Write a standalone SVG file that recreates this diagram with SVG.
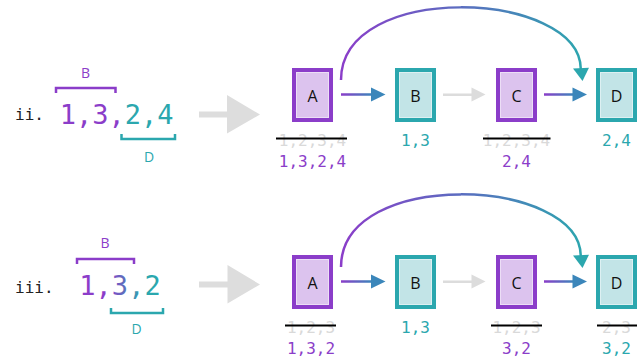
<svg xmlns="http://www.w3.org/2000/svg" width="643" height="362" viewBox="0 0 643 362">
  <defs>
    <style>
      .mono { font-family: "DejaVu Sans Mono", "Liberation Mono", monospace; }
      .sans { font-family: "Open Sans", "Liberation Sans", sans-serif; }
      .num { font-size: 16px; text-anchor: middle; }
      .big { font-size: 27px; text-anchor: middle; }
      .roman { font-size: 16px; fill: #222; }
      .tag { font-size: 14px; text-anchor: middle; }
      .nodeP rect.outer { fill: #dcc3ee; stroke: #8b3dc9; stroke-width: 4; }
      .nodeT rect.outer { fill: #c2e4e7; stroke: #2ba7ae; stroke-width: 4; }
      rect.inner { fill: none; stroke: #ffffff; stroke-opacity: 0.45; stroke-width: 1; }
      .nodeLabel { font-size: 16px; text-anchor: middle; fill: #111; }
      .purple { fill: #8b3dc9; }
      .teal { fill: #2ba7ae; }
      .gray { fill: #d9d9d9; }
      .strike { stroke: #000; stroke-width: 2; }
      .bracketP { fill: none; stroke: #8b3dc9; stroke-width: 2.5; }
      .bracketT { fill: none; stroke: #2ba7ae; stroke-width: 2.5; }
      .bigArrow { fill: #dddddd; }
      .arc { fill: none; stroke: url(#arcGrad); stroke-width: 2.5; }
    </style>
    <linearGradient id="shaftGrad" x1="0" y1="0" x2="1" y2="0">
      <stop offset="0" stop-color="#8b3dc9"/>
      <stop offset="1" stop-color="#3b86ba"/>
    </linearGradient>
    <linearGradient id="arcGrad" gradientUnits="userSpaceOnUse" x1="341" y1="0" x2="585" y2="0">
      <stop offset="0" stop-color="#8b3dc9"/>
      <stop offset="0.5" stop-color="#5a6ec0"/>
      <stop offset="1" stop-color="#2ba7ae"/>
    </linearGradient>
    <linearGradient id="mixGrad" gradientUnits="userSpaceOnUse" x1="108" y1="0" x2="142" y2="0">
      <stop offset="0" stop-color="#8b3dc9"/>
      <stop offset="1" stop-color="#2ba7ae"/>
    </linearGradient>
  </defs>

  <!-- row ii -->
  <g id="row-ii-sequence">
    <text class="mono roman" x="15" y="120">ii.</text>
    <path class="bracketP" d="M56,93 V88 H115.5 V93"/>
    <text class="sans tag purple" x="85.5" y="77.5">B</text>
    <text class="mono big" x="116.7" y="124"><tspan class="purple">1,3,</tspan><tspan class="teal">2,4</tspan></text>
    <path class="bracketT" d="M121.5,134 V139 H175 V134"/>
    <text class="sans tag teal" x="149" y="162">D</text>
    <polygon class="bigArrow" points="199,111.5 227,111.5 227,95 260,114.5 227,133.5 227,117.5 199,117.5"/>
  </g>

  <!-- row iii -->
  <g id="row-iii-sequence">
    <text class="mono roman" x="15" y="292.5">iii.</text>
    <path class="bracketP" d="M77,264 V259 H134 V264"/>
    <text class="sans tag purple" x="105" y="247.5">B</text>
    <text class="mono big" x="120" y="295" fill="url(#mixGrad)">1,3,2</text>
    <path class="bracketT" d="M111,308 V313 H163 V308"/>
    <text class="sans tag teal" x="136.7" y="333.5">D</text>
    <polygon class="bigArrow" points="199,281.5 227.5,281.5 227.5,265 260,284.5 227.5,303.5 227.5,287.5 199,287.5"/>
  </g>

  <!-- graph ii -->
  <g id="ii-A" class="nodeP">
    <rect class="outer" x="294" y="70" width="37" height="50"/>
    <rect class="inner" x="296.5" y="72.5" width="32" height="45"/>
    <text class="sans nodeLabel" x="312.5" y="101.5">A</text>
    <text class="mono num gray" x="312.5" y="145.5">1,2,3,4</text>
    <line class="strike" x1="276" y1="138.5" x2="347" y2="138.5"/>
    <text class="mono num purple" x="312.5" y="166.5">1,3,2,4</text>
  </g>
  <g id="ii-B" class="nodeT">
    <rect class="outer" x="397" y="70" width="37" height="50"/>
    <rect class="inner" x="399.5" y="72.5" width="32" height="45"/>
    <text class="sans nodeLabel" x="415.5" y="101.5">B</text>
    <text class="mono num teal" x="415.5" y="146">1,3</text>
  </g>
  <g id="ii-C" class="nodeP">
    <rect class="outer" x="498" y="70" width="37" height="50"/>
    <rect class="inner" x="500.5" y="72.5" width="32" height="45"/>
    <text class="sans nodeLabel" x="516.5" y="101.5">C</text>
    <text class="mono num gray" x="516.5" y="145.5">1,2,3,4</text>
    <line class="strike" x1="483" y1="138.5" x2="550.5" y2="138.5"/>
    <text class="mono num purple" x="516.5" y="166.5">2,4</text>
  </g>
  <g id="ii-D" class="nodeT">
    <rect class="outer" x="598" y="70" width="37" height="50"/>
    <rect class="inner" x="600.5" y="72.5" width="32" height="45"/>
    <text class="sans nodeLabel" x="616.5" y="101.5">D</text>
    <text class="mono num teal" x="616.5" y="146">2,4</text>
  </g>

  <!-- graph iii -->
  <g id="iii-A" class="nodeP">
    <rect class="outer" x="294" y="257" width="37" height="50"/>
    <rect class="inner" x="296.5" y="259.5" width="32" height="45"/>
    <text class="sans nodeLabel" x="312.5" y="288.5">A</text>
    <text class="mono num gray" x="311" y="332.5">1,2,3</text>
    <line class="strike" x1="285" y1="325.5" x2="336" y2="325.5"/>
    <text class="mono num purple" x="311" y="353.5">1,3,2</text>
  </g>
  <g id="iii-B" class="nodeT">
    <rect class="outer" x="397" y="257" width="37" height="50"/>
    <rect class="inner" x="399.5" y="259.5" width="32" height="45"/>
    <text class="sans nodeLabel" x="415.5" y="288.5">B</text>
    <text class="mono num teal" x="415.5" y="333">1,3</text>
  </g>
  <g id="iii-C" class="nodeP">
    <rect class="outer" x="498" y="257" width="37" height="50"/>
    <rect class="inner" x="500.5" y="259.5" width="32" height="45"/>
    <text class="sans nodeLabel" x="516.5" y="288.5">C</text>
    <text class="mono num gray" x="516.5" y="332.5">1,2,3</text>
    <line class="strike" x1="491" y1="325.5" x2="542" y2="325.5"/>
    <text class="mono num purple" x="516.5" y="353.5">3,2</text>
  </g>
  <g id="iii-D" class="nodeT">
    <rect class="outer" x="598" y="257" width="37" height="50"/>
    <rect class="inner" x="600.5" y="259.5" width="32" height="45"/>
    <text class="sans nodeLabel" x="616.5" y="288.5">D</text>
    <text class="mono num gray" x="616.5" y="332.5">2,3</text>
    <line class="strike" x1="597" y1="325.5" x2="637" y2="325.5"/>
    <text class="mono num teal" x="616.5" y="353.5">3,2</text>
  </g>

  <!-- connectors -->
  <g id="connectors">
    <!-- ii -->
    <rect x="341" y="93.25" width="31" height="2.5" fill="url(#shaftGrad)"/>
    <polygon points="371,87.5 385.5,94.5 371,101.5" fill="#3b86ba"/>
    <rect x="443" y="93.5" width="30" height="2.5" fill="#dcdcdc"/>
    <polygon points="471.5,87.5 485.5,94.5 471.5,101.5" fill="#dcdcdc"/>
    <rect x="544" y="93.25" width="30" height="2.5" fill="url(#shaftGrad)"/>
    <polygon points="572.5,87.5 587,94.5 572.5,101.5" fill="#3b86ba"/>
    <path class="arc" d="M341,80 C341,-20 580,-10 580.8,69"/>
    <polygon points="573,68.5 589,67.8 582.5,81" fill="#2ba7ae"/>
    <!-- iii -->
    <rect x="341" y="280.25" width="31" height="2.5" fill="url(#shaftGrad)"/>
    <polygon points="371,274.5 385.5,281.5 371,288.5" fill="#3b86ba"/>
    <rect x="443" y="280.5" width="30" height="2.5" fill="#dcdcdc"/>
    <polygon points="471.5,274.5 485.5,281.5 471.5,288.5" fill="#dcdcdc"/>
    <rect x="544" y="280.25" width="30" height="2.5" fill="url(#shaftGrad)"/>
    <polygon points="572.5,274.5 587,281.5 572.5,288.5" fill="#3b86ba"/>
    <path class="arc" d="M341,267 C341,167 580,177 580.8,256"/>
    <polygon points="573,255.5 589,254.8 582.5,268" fill="#2ba7ae"/>
  </g>
</svg>
